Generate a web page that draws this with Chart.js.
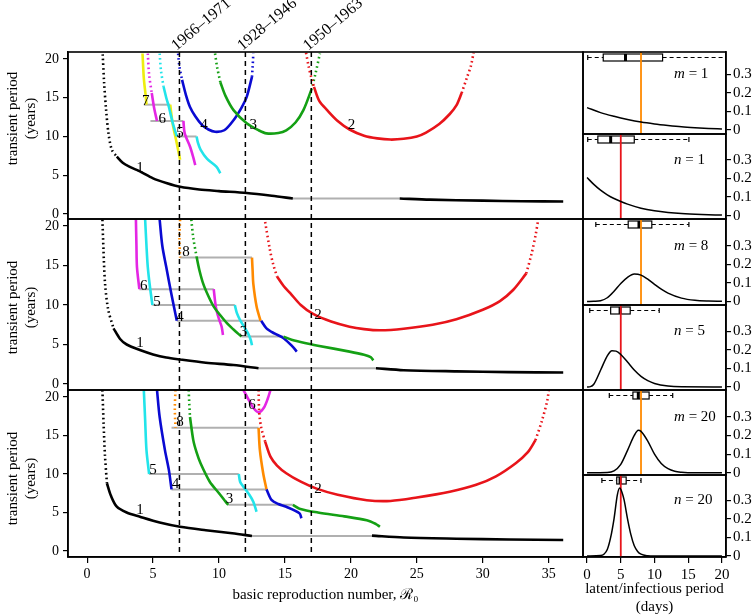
<!DOCTYPE html>
<html>
<head>
<meta charset="utf-8">
<script src="https://cdn.jsdelivr.net/npm/chart.js@4.4.1/dist/chart.umd.min.js"></script>
<style>
  body { margin: 0; background: #fff; width: 754px; height: 616px; overflow: hidden; position: relative; }
  canvas { position: absolute; top: 0; }
  #left { left: 0; }
  #right { left: 570px; }
</style>
</head>
<body>
<canvas id="left" width="600" height="616"></canvas>
<canvas id="right" width="184" height="616"></canvas>
<script>
// ---- ticks ----
const r0Ticks = [0, 5, 10, 15, 20, 25, 30, 35];
const yearTicks = [0, 5, 10, 15, 20];
const dayTicks = [0, 5, 10, 15, 20];
const densTicks = [0, 0.1, 0.2, 0.3];

// R0 estimates for the three eras (dashed lines)
const eraR0 = [7, 12, 17];
const eraLabels = ['1966–1971', '1928–1946', '1950–1963'];

// ---- top panel: [R0, transient period] ----
const A1dot = [[1.18,20.6],[1.29,16.9],[1.44,13.4],[1.62,10.4],[1.87,8.3],[2.25,7.4]];
const A1 = [[2.25,7.4],[2.7,6.6],[3.2,6.1],[4.0,5.5],[5.0,4.6],[6.0,4.0],[7.05,3.5],[8.5,3.15],[10,2.95],[12.1,2.7],[14,2.35],[15.6,2.0]];
const A1jump = [[15.6,2.0],[23.7,2.0]];
const A1b = [[23.7,2.0],[26,1.85],[30,1.72],[33,1.65],[36.1,1.6]];
const A2dot = [[16.6,20.8],[16.8,19.0],[17.0,17.6],[17.2,16.4]];
const A2 = [[17.2,16.4],[17.6,14.6],[18.2,13.4],[19.0,12.0],[19.9,10.9],[21.0,10.1],[22.0,9.75],[23.0,9.6],[24.0,9.7],[25.0,10.0],[25.7,10.5],[26.7,11.6],[27.5,12.9],[28.0,14.0],[28.4,15.6]];
const A2dot2 = [[28.4,15.6],[28.8,17.6],[29.1,19.1],[29.3,20.8]];
const A3dot = [[9.7,20.7],[9.85,19.0],[10.1,17.0]];
const A3 = [[10.1,17.0],[10.5,15.2],[11.1,13.4],[12.1,11.7],[13.0,10.8],[13.6,10.4],[14.5,10.45],[15.1,10.8],[15.8,11.8],[16.4,13.4],[17.0,16.0]];
const A3dot2 = [[17.0,16.0],[17.3,18.0],[17.65,20.7]];
const A4dot = [[6.9,20.7],[7.0,19.0],[7.2,17.3]];
const A4 = [[7.2,17.3],[7.5,15.3],[7.8,13.8],[8.2,12.6],[8.7,11.5],[9.2,10.9],[9.7,10.6],[10.4,10.8],[11.1,12.1],[11.7,13.7],[12.1,15.1],[12.5,17.7]];
const A4dot2 = [[12.5,17.7],[12.55,19.0],[12.6,20.7]];
const A5dot = [[5.5,20.7],[5.6,18.5],[5.8,16.4]];
const A5 = [[5.8,16.4],[6.0,15.0],[6.2,13.8],[6.5,11.7],[6.8,10.0]];
const A5jump = [[6.8,10.0],[8.3,10.0]];
const A5b = [[8.3,10.0],[8.4,9.2],[8.6,8.3],[9.1,7.1],[9.8,6.1],[10.1,5.25]];
const A6dot = [[4.6,20.7],[4.7,18.0],[4.9,15.6]];
const A6 = [[4.9,15.6],[5.1,13.5],[5.3,12.0]];
const A6jump = [[4.8,12.0],[7.3,12.0]];
const A6b = [[7.3,12.0],[7.4,10.4],[7.8,8.7],[8.05,7.3],[8.2,6.3]];
const A7 = [[4.2,20.7],[4.3,17.5],[4.45,15.1],[4.5,14.1]];
const A7jump = [[4.3,14.1],[6.3,14.1]];
const A7b = [[6.3,14.1],[6.5,11.5],[6.75,9.5],[7.05,7.0]];

// ---- middle panel ----
const B1dot = [[1.16,20.8],[1.24,17.0],[1.36,12.7],[1.6,9.4],[2.0,7.05]];
const B1 = [[2.0,7.05],[2.5,5.7],[3.0,5.0],[4.0,4.3],[5.0,3.75],[6.0,3.35],[7.05,3.1],[9.0,2.7],[11.1,2.4],[13.0,2.0]];
const B1jump = [[13.0,2.0],[21.9,2.0]];
const B1b = [[21.9,2.0],[24,1.75],[28,1.6],[32,1.5],[36.1,1.45]];
const B2dot = [[13.5,20.5],[13.86,17.0],[14.1,15.2],[14.4,13.6]];
const B2 = [[14.4,13.6],[14.9,12.4],[15.4,11.5],[16.2,10.0],[17.1,8.9],[18.5,7.9],[19.9,7.25],[21.0,6.95],[22.2,6.8],[24.0,7.0],[26.2,7.5],[28.0,8.2],[30.0,9.4],[31.3,10.5],[32.3,11.9],[33.3,14.0]];
const B2dot2 = [[33.3,14.0],[33.7,16.5],[34.0,18.8],[34.2,20.8]];
const B3dot = [[7.9,20.8],[8.05,18.5],[8.3,16.1]];
const B3 = [[8.3,16.1],[8.5,14.5],[8.8,12.7],[9.2,11.1],[9.6,9.8],[10.1,8.7],[10.6,7.7],[11.1,6.9],[11.7,6.0]];
const B3jump = [[11.7,6.0],[14.9,6.0]];
const B3b = [[14.9,6.0],[15.5,5.6],[16.1,5.35],[17.5,4.85],[19.9,4.1],[21.0,3.7],[21.5,3.4],[21.7,3.0]];
const B4 = [[5.5,20.8],[5.7,17.5],[6.0,14.8],[6.4,11.3],[6.8,8.0]];
const B4jump = [[6.8,8.0],[13.2,8.0]];
const B4b = [[13.2,8.0],[13.6,7.05],[14.2,6.4],[14.9,5.8],[15.6,4.7],[15.9,4.1]];
const B5 = [[4.4,20.8],[4.5,17.5],[4.6,14.8],[4.75,12.5],[4.9,10.6],[4.95,10.0]];
const B5jump = [[4.95,10.0],[11.2,10.0]];
const B5b = [[11.2,10.0],[11.35,9.0],[11.6,8.1],[12.2,6.4],[12.4,5.6],[12.5,4.9]];
const B6 = [[3.7,20.8],[3.74,17.5],[3.78,14.8],[3.96,12.0]];
const B6jump = [[3.96,12.0],[9.6,12.0]];
const B6b = [[9.6,12.0],[9.7,10.5],[9.8,9.4],[10.0,8.2],[10.2,7.25],[10.3,6.2]];
const B8dot = [[7.05,20.8],[7.0,18.5],[7.05,16.0]];
const B8jump = [[7.05,16.0],[12.5,16.0]];
const B8 = [[12.5,16.0],[12.55,14.3],[12.6,12.7],[12.85,9.8],[13.15,8.0]];

// ---- bottom panel ----
const C1dot = [[1.16,20.9],[1.25,16.5],[1.35,12.5],[1.5,8.8]];
const C1 = [[1.5,8.8],[1.8,7.2],[2.25,5.75],[3.0,5.0],[4.0,4.45],[5.5,3.7],[7.05,3.15],[9.0,2.7],[11.0,2.3],[12.5,1.95]];
const C1jump = [[12.5,1.95],[21.6,1.95]];
const C1b = [[21.6,2.0],[24,1.75],[28,1.6],[32,1.5],[36.1,1.43]];
const C2dot = [[13.0,20.9],[13.05,18.0],[13.2,16.0],[13.5,14.2]];
const C2 = [[13.5,14.2],[13.9,12.25],[14.4,11.1],[15.1,10.1],[16.2,9.0],[17.4,8.1],[19.0,7.3],[21.2,6.6],[23.0,6.5],[25.0,6.95],[27.5,7.7],[29.5,8.6],[31.0,9.7],[32.5,11.4],[33.4,12.8],[34.0,14.4]];
const C2dot2 = [[34.0,14.4],[34.5,17.0],[34.9,19.6],[35.0,20.9]];
const C3dot = [[7.7,20.9],[7.75,19.0],[7.8,17.4]];
const C3 = [[7.8,17.4],[8.05,14.4],[8.3,12.8],[8.6,11.4],[9.3,9.0],[10.0,7.5],[10.5,6.4],[10.7,6.0]];
const C3jump = [[10.7,6.0],[15.6,6.0]];
const C3b = [[15.6,6.0],[16.1,5.5],[17.5,5.0],[19.5,4.5],[21.2,4.0],[21.9,3.5],[22.2,3.15]];
const C4 = [[5.3,20.9],[5.5,17.4],[5.9,13.1],[6.2,10.5],[6.4,8.0]];
const C4jump = [[6.4,8.0],[13.6,8.0]];
const C4b = [[13.6,8.0],[14.0,6.6],[14.5,6.1],[15.1,5.75],[16.1,4.9],[16.25,4.25]];
const C5 = [[4.3,20.9],[4.4,17.0],[4.5,13.1],[4.7,10.0]];
const C5jump = [[4.7,10.0],[11.5,10.0]];
const C5b = [[11.5,10.0],[11.6,9.0],[11.85,8.35],[12.3,7.3],[12.6,6.4],[12.85,5.1]];
const C6 = [[11.85,20.9],[12.2,19.8],[12.6,18.6],[13.0,18.0],[13.4,18.6],[13.7,19.8],[13.9,20.9]];
const C8dot = [[6.7,20.9],[6.65,18.5],[6.7,16.0]];
const C8jump = [[6.4,16.0],[13.0,16.0]];
const C8 = [[13.0,16.0],[13.1,13.1],[13.35,10.1],[13.6,8.0]];

// curve numbers written on the panels
const labTextA = ['1','2','3','4','5','6','7'];
const labXA = [4.0, 20.05, 12.6, 8.86, 7.05, 5.7, 4.45];
const labYA = [5.9, 11.5, 11.5, 11.5, 10.4, 12.3, 14.6];
const labTextB = ['1','2','3','4','5','6','8'];
const labXB = [4.0, 17.5, 11.85, 7.05, 5.3, 4.3, 7.5];
const labYB = [5.15, 8.7, 6.6, 8.5, 10.4, 12.4, 16.7];
const labTextC = ['1','2','3','4','5','6','8'];
const labXC = [4.0, 17.5, 10.8, 6.7, 5.0, 12.5, 7.05];
const labYC = [5.3, 8.0, 6.7, 8.7, 10.5, 19.0, 16.8];

// ---- right column: period distributions [days, density] ----
const distM1 = [[0,0.12],[2,0.093],[4,0.073],[6,0.056],[8,0.042],[10,0.032],[12,0.024],[14,0.017],[16,0.012],[18,0.008],[20,0.005]];
const distN1 = [[0,0.205],[1,0.168],[2,0.137],[3,0.112],[4,0.092],[5,0.076],[6,0.062],[8,0.04],[10,0.026],[12,0.017],[14,0.011],[17,0.006],[20,0.003]];
const distM8 = [[0,0],[1,0.001],[2,0.004],[3,0.02],[4,0.055],[5,0.097],[6,0.13],[7,0.148],[8,0.142],[9,0.12],[10,0.092],[11,0.066],[12,0.045],[14,0.018],[16,0.006],[18,0.002],[20,0.001]];
const distN5 = [[0,0],[0.5,0.002],[1,0.015],[2,0.09],[3,0.168],[3.7,0.195],[4.3,0.193],[5,0.175],[6,0.134],[7,0.091],[8,0.057],[9,0.034],[10,0.019],[12,0.005],[14,0.001],[20,0]];
const distM20 = [[0,0],[3,0.001],[4,0.01],[5,0.045],[6,0.12],[7,0.2],[7.6,0.228],[8,0.222],[9,0.17],[10,0.1],[11,0.05],[12,0.022],[13,0.008],[14,0.003],[16,0],[20,0]];
const distN20 = [[0,0],[2,0.003],[2.5,0.01],[3,0.035],[3.5,0.1],[4,0.2],[4.5,0.33],[4.85,0.365],[5.2,0.34],[5.5,0.3],[6,0.2],[6.5,0.115],[7,0.055],[7.5,0.025],[8,0.01],[9,0.0015],[10,0],[20,0]];

// box plots: [min, q1, median, q3, max] in days
const boxStats = [
  [0.1, 2.4, 5.7, 11.2, 24],
  [0.1, 1.6, 3.5, 7.0, 15.1],
  [1.3, 6.1, 7.7, 9.6, 15.1],
  [0.4, 3.5, 4.9, 6.4, 10.7],
  [3.3, 6.8, 7.6, 9.2, 12.7],
  [2.2, 4.4, 4.9, 5.8, 8.0]
];
const shapeLetter = ['m', 'n', 'm', 'n', 'm', 'n'];
const shapeValue = [1, 1, 8, 5, 20, 20];
const latentMean = 8;
const infectiousMean = 5;

// ---- styles ----
const curveColours = ['#000000', '#000000', '#e8141a', '#14a014', '#0a0ad2', '#22e4ea', '#e426e4', '#eeee10', '#ff8a00'];
const grey = '#b0b0b0';
const serif = "'Liberation Serif', 'DejaVu Serif', serif";
Chart.defaults.font.family = serif;
Chart.defaults.color = '#000';

const segsA = [
  [1,'dot',A1dot],[1,'line',A1],[1,'line',A1b],[2,'dot',A2dot],[2,'line',A2],[2,'dot',A2dot2],
  [3,'dot',A3dot],[3,'line',A3],[3,'dot',A3dot2],[4,'dot',A4dot],[4,'line',A4],[4,'dot',A4dot2],
  [5,'dot',A5dot],[5,'line',A5],[5,'line',A5b],[6,'dot',A6dot],[6,'line',A6],[6,'line',A6b],
  [7,'line',A7],[7,'line',A7b],
  [0,'jump',A1jump],[0,'jump',A5jump],[0,'jump',A6jump],[0,'jump',A7jump]
];
const segsB = [
  [1,'dot',B1dot],[1,'line',B1],[1,'line',B1b],[2,'dot',B2dot],[2,'line',B2],[2,'dot',B2dot2],
  [3,'dot',B3dot],[3,'line',B3],[3,'line',B3b],[4,'line',B4],[4,'line',B4b],
  [5,'line',B5],[5,'line',B5b],[6,'line',B6],[6,'line',B6b],[8,'dot',B8dot],[8,'line',B8],
  [0,'jump',B1jump],[0,'jump',B3jump],[0,'jump',B4jump],[0,'jump',B5jump],[0,'jump',B6jump],[0,'jump',B8jump]
];
const segsC = [
  [1,'dot',C1dot],[1,'line',C1],[1,'line',C1b],[2,'dot',C2dot],[2,'line',C2],[2,'dot',C2dot2],
  [3,'dot',C3dot],[3,'line',C3],[3,'line',C3b],[4,'line',C4],[4,'line',C4b],
  [5,'line',C5],[5,'line',C5b],[6,'line',C6],[8,'dot',C8dot],[8,'line',C8],
  [0,'jump',C1jump],[0,'jump',C3jump],[0,'jump',C4jump],[0,'jump',C5jump],[0,'jump',C8jump]
];

function makeSets(segs, axis) {
  return segs.map(([c, kind, pts]) => ({
    data: pts.map(p => ({ x: p[0], y: p[1] })),
    yAxisID: axis,
    showLine: true,
    borderColor: kind === 'jump' ? grey : curveColours[c],
    borderWidth: kind === 'jump' ? 2 : 2.6,
    borderDash: kind === 'dot' ? [1.6, 3] : [],
    pointRadius: 0,
    tension: kind === 'jump' ? 0 : 0.3,
    fill: false
  }));
}

function fixedTicks(values) {
  return scale => { scale.ticks = values.map(v => ({ value: v })); };
}

// --- LEFT COLUMN ---
const leftIds = ['yA', 'yB', 'yC'];
const leftMin = [-0.65, -0.76, -0.78];
const leftMax = [20.9, 20.89, 20.91];
const leftWeight = [167, 171, 167];
const leftLabels = [[labTextA, labXA, labYA], [labTextB, labXB, labYB], [labTextC, labXC, labYC]];
const titleShift = [-17, 3, 5];

function leftY(i) {
  return {
    type: 'linear', position: 'left', stack: 'left', stackWeight: leftWeight[i],
    min: leftMin[i], max: leftMax[i],
    afterBuildTicks: fixedTicks(yearTicks),
    afterFit: s => { s.width = 68; },
    ticks: { font: { size: 14 }, padding: 4, autoSkip: false, callback: v => String(v) },
    grid: { drawOnChartArea: false, drawTicks: true, tickLength: 5, color: '#000', lineWidth: 1.2 },
    border: { display: true, color: '#000', width: 1.5 }
  };
}

const leftDecor = {
  id: 'leftDecor',
  afterDatasetsDraw(chart) {
    const { ctx, chartArea: ca } = chart;
    const x = chart.scales.x;
    ctx.save();
    // panel frames
    ctx.strokeStyle = '#000';
    ctx.lineWidth = 1.6;
    leftIds.forEach(id => {
      const s = chart.scales[id];
      ctx.strokeRect(ca.left, s.top, ca.right - ca.left, s.bottom - s.top);
    });
    // era lines
    ctx.lineWidth = 1.5;
    ctx.setLineDash([5, 4]);
    eraR0.forEach(v => {
      const px = x.getPixelForValue(v);
      ctx.beginPath();
      ctx.moveTo(px, ca.top);
      ctx.lineTo(px, ca.bottom);
      ctx.stroke();
    });
    ctx.setLineDash([]);
    // era labels
    ctx.fillStyle = '#000';
    ctx.font = '16px ' + serif;
    ctx.textAlign = 'left';
    ctx.textBaseline = 'alphabetic';
    eraR0.forEach((v, i) => {
      const px = x.getPixelForValue(v);
      ctx.save();
      ctx.translate(px - 3, ca.top - 1);
      ctx.rotate(-40 * Math.PI / 180);
      ctx.fillText(eraLabels[i], 0, 0);
      ctx.restore();
    });
    // curve numbers
    ctx.font = '15px ' + serif;
    ctx.textAlign = 'center';
    ctx.textBaseline = 'middle';
    leftIds.forEach((id, i) => {
      const s = chart.scales[id];
      const [txt, xs, ys] = leftLabels[i];
      txt.forEach((t, k) => ctx.fillText(t, x.getPixelForValue(xs[k]), s.getPixelForValue(ys[k])));
    });
    // y titles
    leftIds.forEach((id, i) => {
      const s = chart.scales[id];
      const cy = (s.top + s.bottom) / 2 + titleShift[i];
      ctx.save();
      ctx.translate(13.5, cy);
      ctx.rotate(-Math.PI / 2);
      ctx.fillText('transient period', 0, 0);
      ctx.restore();
      ctx.save();
      ctx.translate(31, cy);
      ctx.rotate(-Math.PI / 2);
      ctx.fillText('(years)', 0, 0);
      ctx.restore();
    });
    ctx.restore();
  }
};

const leftScales = {
  x: {
    type: 'linear', position: 'bottom', min: -1.45, max: 37.6,
    afterBuildTicks: fixedTicks(r0Ticks),
    afterFit: s => { s.height = 59; },
    ticks: { font: { size: 14 }, padding: 3, maxRotation: 0, autoSkip: false, callback: v => String(v) },
    grid: { drawOnChartArea: false, drawTicks: true, tickLength: 6, color: '#000', lineWidth: 1.2 },
    border: { display: true, color: '#000', width: 1.5 },
    title: { display: true, text: 'basic reproduction number, ℛ₀', font: { size: 15 }, padding: { top: 0, bottom: 12 } }
  }
};
// left-hand stacked axes are laid out bottom-up, so add them in reverse
[2, 1, 0].forEach(i => { leftScales[leftIds[i]] = leftY(i); });

new Chart(document.getElementById('left'), {
  type: 'scatter',
  data: { datasets: [...makeSets(segsA, 'yA'), ...makeSets(segsB, 'yB'), ...makeSets(segsC, 'yC')] },
  options: {
    responsive: false, animation: false, events: [],
    layout: { padding: { top: 52, right: 17, left: 0, bottom: 0 } },
    plugins: { legend: { display: false }, tooltip: { enabled: false } },
    scales: leftScales
  },
  plugins: [leftDecor]
});

// --- RIGHT COLUMN ---
const distCurves = [distM1, distN1, distM8, distN5, distM20, distN20];
const rightIds = ['r0', 'r1', 'r2', 'r3', 'r4', 'r5'];
const rightMin = [-0.022, -0.018, -0.019, -0.016, -0.012, -0.005];
const rightMax = [0.419, 0.439, 0.444, 0.441, 0.444, 0.435];
const rightWeight = [82, 85, 86, 85, 85, 82];

const rightScales = {
  x: {
    type: 'linear', position: 'bottom', min: -0.6, max: 20.6,
    afterBuildTicks: fixedTicks(dayTicks),
    afterFit: s => { s.height = 59; },
    ticks: { font: { size: 15 }, padding: 3, maxRotation: 0, autoSkip: false, callback: v => String(v) },
    grid: { drawOnChartArea: false, drawTicks: true, tickLength: 6, color: '#000', lineWidth: 1.2 },
    border: { display: true, color: '#000', width: 1.5 },
    title: { display: true, text: ['latent/infectious period', '(days)'], font: { size: 15, lineHeight: 1.2 }, padding: { top: 0, bottom: 0 } }
  }
};
rightIds.forEach((id, i) => {
  rightScales[id] = {
    type: 'linear', position: 'right', stack: 'right', stackWeight: rightWeight[i],
    min: rightMin[i], max: rightMax[i],
    afterBuildTicks: fixedTicks(densTicks),
    afterFit: s => { s.width = 28; },
    ticks: { font: { size: 15 }, padding: 2, autoSkip: false, callback: v => String(v) },
    grid: { drawOnChartArea: false, drawTicks: true, tickLength: 5, color: '#000', lineWidth: 1.2 },
    border: { display: true, color: '#000', width: 1.5 }
  };
});

const rightDecor = {
  id: 'rightDecor',
  beforeDatasetsDraw(chart) {
    const { ctx, chartArea: ca } = chart;
    const x = chart.scales.x;
    ctx.save();
    ctx.beginPath();
    ctx.rect(ca.left, ca.top, ca.right - ca.left, ca.bottom - ca.top);
    ctx.clip();
    rightIds.forEach((id, i) => {
      const s = chart.scales[id];
      const [lo, q1, med, q3, hi] = boxStats[i];
      const y = s.top + 5.5;
      ctx.strokeStyle = '#000';
      ctx.lineWidth = 1.2;
      // whiskers
      ctx.setLineDash([4, 3]);
      ctx.beginPath();
      ctx.moveTo(x.getPixelForValue(lo), y);
      ctx.lineTo(x.getPixelForValue(q1), y);
      ctx.moveTo(x.getPixelForValue(q3), y);
      ctx.lineTo(x.getPixelForValue(hi), y);
      ctx.stroke();
      ctx.setLineDash([]);
      ctx.beginPath();
      [lo, hi].forEach(v => {
        const px = x.getPixelForValue(v);
        ctx.moveTo(px, y - 2.5);
        ctx.lineTo(px, y + 2.5);
      });
      ctx.stroke();
      // box
      const b0 = x.getPixelForValue(q1), b1 = x.getPixelForValue(q3);
      ctx.fillStyle = '#fff';
      ctx.fillRect(b0, y - 3.5, b1 - b0, 7);
      ctx.strokeRect(b0, y - 3.5, b1 - b0, 7);
      ctx.lineWidth = 3;
      ctx.beginPath();
      ctx.moveTo(x.getPixelForValue(med), y - 3.5);
      ctx.lineTo(x.getPixelForValue(med), y + 3.5);
      ctx.stroke();
      // mean period line
      const mean = shapeLetter[i] === 'm' ? latentMean : infectiousMean;
      ctx.strokeStyle = shapeLetter[i] === 'm' ? curveColours[8] : curveColours[2];
      ctx.lineWidth = 1.8;
      ctx.beginPath();
      ctx.moveTo(x.getPixelForValue(mean), s.top);
      ctx.lineTo(x.getPixelForValue(mean), s.bottom);
      ctx.stroke();
    });
    ctx.restore();
  },
  afterDatasetsDraw(chart) {
    const { ctx, chartArea: ca } = chart;
    const x = chart.scales.x;
    ctx.save();
    ctx.strokeStyle = '#000';
    ctx.lineWidth = 1.6;
    rightIds.forEach(id => {
      const s = chart.scales[id];
      ctx.strokeRect(ca.left, s.top, ca.right - ca.left, s.bottom - s.top);
    });
    ctx.fillStyle = '#000';
    ctx.textAlign = 'left';
    ctx.textBaseline = 'middle';
    rightIds.forEach((id, i) => {
      const s = chart.scales[id];
      const px = x.getPixelForValue(12.9);
      const py = s.getPixelForValue(0.3);
      ctx.font = 'italic 15px ' + serif;
      ctx.fillText(shapeLetter[i], px, py);
      const w = ctx.measureText(shapeLetter[i]).width;
      ctx.font = '15px ' + serif;
      ctx.fillText(' = ' + shapeValue[i], px + w, py);
    });
    ctx.restore();
  }
};

new Chart(document.getElementById('right'), {
  type: 'scatter',
  data: {
    datasets: distCurves.map((pts, i) => ({
      data: pts.map(p => ({ x: p[0], y: p[1] })),
      yAxisID: rightIds[i],
      showLine: true,
      borderColor: '#000',
      borderWidth: 1.5,
      pointRadius: 0,
      cubicInterpolationMode: 'monotone',
      fill: false
    }))
  },
  options: {
    responsive: false, animation: false, events: [],
    layout: { padding: { top: 52, right: 0, left: 13, bottom: 0 } },
    plugins: { legend: { display: false }, tooltip: { enabled: false } },
    scales: rightScales
  },
  plugins: [rightDecor]
});
</script>
</body>
</html>
